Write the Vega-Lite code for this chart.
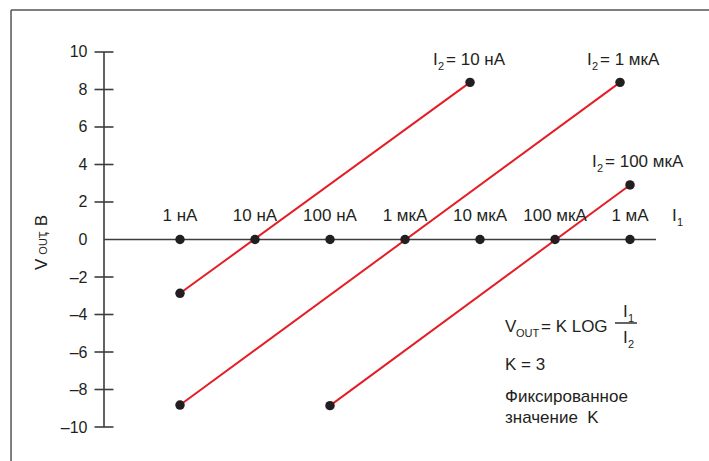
{
  "$schema": "https://vega.github.io/schema/vega-lite/v6.json",
  "width": 709,
  "height": 461,
  "autosize": {"type": "none"},
  "padding": 0,
  "background": "white",
  "config": {"view": {"stroke": null}, "font": "Liberation Sans"},
  "datasets": {
    "rules": [
      {"role": "frame", "x": -2.253, "x2": 7.06, "y": 12.24, "y2": 12.24},
      {"role": "frame", "x": -2.253, "x2": -2.253, "y": 12.24, "y2": -11.813},
      {"role": "axis", "x": -1.0133, "x2": -1.0133, "y": -10, "y2": 10},
      {"role": "axis", "x": -1.0133, "x2": 6.347, "y": 0, "y2": 0},
      {"role": "frac", "x": 5.8, "x2": 6.093, "y": -4.453, "y2": -4.453},
      {"role": "tick", "x": -1.14, "x2": -0.887, "y": -10, "y2": -10},
      {"role": "tick", "x": -1.14, "x2": -0.887, "y": -8, "y2": -8},
      {"role": "tick", "x": -1.14, "x2": -0.887, "y": -6, "y2": -6},
      {"role": "tick", "x": -1.14, "x2": -0.887, "y": -4, "y2": -4},
      {"role": "tick", "x": -1.14, "x2": -0.887, "y": -2, "y2": -2},
      {"role": "tick", "x": -1.14, "x2": -0.887, "y": 2, "y2": 2},
      {"role": "tick", "x": -1.14, "x2": -0.887, "y": 4, "y2": 4},
      {"role": "tick", "x": -1.14, "x2": -0.887, "y": 6, "y2": 6},
      {"role": "tick", "x": -1.14, "x2": -0.887, "y": 8, "y2": 8},
      {"role": "tick", "x": -1.14, "x2": -0.887, "y": 10, "y2": 10}
    ],
    "lines": [
      {"s": "I2 = 10 нА", "x": 0, "y": -2.87},
      {"s": "I2 = 10 нА", "x": 3.867, "y": 8.38},
      {"s": "I2 = 1 мкА", "x": 0, "y": -8.83},
      {"s": "I2 = 1 мкА", "x": 5.867, "y": 8.38},
      {"s": "I2 = 100 мкА", "x": 2.0, "y": -8.86},
      {"s": "I2 = 100 мкА", "x": 6.0, "y": 2.91}
    ],
    "adots": [
      {"x": 0, "y": 0, "label": "1 нА"},
      {"x": 1, "y": 0, "label": "10 нА"},
      {"x": 2, "y": 0, "label": "100 нА"},
      {"x": 3, "y": 0, "label": "1 мкА"},
      {"x": 4, "y": 0, "label": "10 мкА"},
      {"x": 5, "y": 0, "label": "100 мкА"},
      {"x": 6, "y": 0, "label": "1 мА"}
    ],
    "notes": [
      {"role": "l", "x": 3.373, "y": 9.307, "t": "I"},
      {"role": "s", "x": 3.44, "y": 9.307, "t": "2"},
      {"role": "l", "x": 3.547, "y": 9.307, "t": "= 10 нА"},
      {"role": "l", "x": 5.427, "y": 9.307, "t": "I"},
      {"role": "s", "x": 5.493, "y": 9.307, "t": "2"},
      {"role": "l", "x": 5.6, "y": 9.307, "t": "= 1 мкА"},
      {"role": "l", "x": 5.493, "y": 3.867, "t": "I"},
      {"role": "s", "x": 5.56, "y": 3.867, "t": "2"},
      {"role": "l", "x": 5.667, "y": 3.867, "t": "= 100 мкА"},
      {"role": "l", "x": 6.56, "y": 0.987, "t": "I"},
      {"role": "s", "x": 6.627, "y": 0.987, "t": "1"},
      {"role": "l", "x": 5.907, "y": -4.133, "t": "I"},
      {"role": "s", "x": 5.973, "y": -4.133, "t": "1"},
      {"role": "l", "x": 5.907, "y": -5.52, "t": "I"},
      {"role": "s", "x": 5.973, "y": -5.52, "t": "2"},
      {"role": "l", "x": 4.333, "y": -4.933, "t": "V"},
      {"role": "s", "x": 4.48, "y": -4.933, "t": "OUT"},
      {"role": "l", "x": 4.813, "y": -4.933, "t": "= K LOG"},
      {"role": "l", "x": 4.333, "y": -6.96, "t": "K = 3"},
      {"role": "l", "x": 4.333, "y": -8.667, "t": "Фиксированное"},
      {"role": "l", "x": 4.333, "y": -9.787, "t": "значение\u00a0 K"},
      {"role": "t", "x": -1.773, "y": -1.627, "t": "V"},
      {"role": "t", "x": -1.773, "y": 0.2, "t": ", В"},
      {"role": "ts", "x": -1.773, "y": -1.02, "t": "OUT"}
    ]
  },
  "encoding": {
    "x": {"field": "x", "type": "quantitative", "scale": {"domain": [-2.4, 7.0533], "nice": false, "zero": false}, "axis": null},
    "y": {"field": "y", "type": "quantitative", "scale": {"domain": [-11.813, 12.773], "nice": false, "zero": false},
      "axis": {"values": [-10, -8, -6, -4, -2, 0, 2, 4, 6, 8, 10], "offset": -104, "domain": false, "ticks": false, "grid": false,
        "labelPadding": 17, "labelFontSize": 16, "labelFont": "Liberation Sans", "labelColor": "#231f20", "title": null,
        "labelExpr": "datum.value < 0 ? '–' + abs(datum.value) : '' + datum.value"}}
  },
  "layer": [
    {
      "data": {"name": "rules"},
      "transform": [{"filter": "datum.role === 'frame'"}],
      "mark": {"type": "rule", "color": "#555555", "strokeWidth": 1.5},
      "encoding": {"x2": {"field": "x2"}, "y2": {"field": "y2"}}
    },
    {
      "data": {"name": "rules"},
      "transform": [{"filter": "datum.role !== 'frame'"}],
      "mark": {"type": "rule", "color": "#3d3d3d", "strokeWidth": 1.6},
      "encoding": {"x2": {"field": "x2"}, "y2": {"field": "y2"}}
    },
    {
      "data": {"name": "lines"},
      "mark": {"type": "line", "color": "#e41e26", "strokeWidth": 2},
      "encoding": {"detail": {"field": "s"}}
    },
    {
      "data": {"name": "lines"},
      "mark": {"type": "point", "filled": true, "size": 90, "color": "#231f20", "opacity": 1}
    },
    {
      "data": {"name": "adots"},
      "mark": {"type": "point", "filled": true, "size": 90, "color": "#231f20", "opacity": 1}
    },
    {
      "data": {"name": "adots"},
      "mark": {"type": "text", "dy": -19, "align": "center", "baseline": "alphabetic", "fontSize": 17, "color": "#231f20"},
      "encoding": {"text": {"field": "label"}}
    },
    {
      "data": {"name": "notes"},
      "transform": [{"filter": "datum.role === 'l'"}],
      "mark": {"type": "text", "align": "left", "baseline": "alphabetic", "fontSize": 17, "color": "#231f20"},
      "encoding": {"text": {"field": "t"}}
    },
    {
      "data": {"name": "notes"},
      "transform": [{"filter": "datum.role === 's'"}],
      "mark": {"type": "text", "align": "left", "baseline": "alphabetic", "fontSize": 11, "dy": 5, "color": "#231f20"},
      "encoding": {"text": {"field": "t"}}
    },
    {
      "data": {"name": "notes"},
      "transform": [{"filter": "datum.role === 't'"}],
      "mark": {"type": "text", "align": "left", "baseline": "alphabetic", "fontSize": 17, "angle": 270, "color": "#231f20"},
      "encoding": {"text": {"field": "t"}}
    },
    {
      "data": {"name": "notes"},
      "transform": [{"filter": "datum.role === 'ts'"}],
      "mark": {"type": "text", "align": "left", "baseline": "alphabetic", "fontSize": 11, "angle": 270, "dx": 4, "color": "#231f20"},
      "encoding": {"text": {"field": "t"}}
    }
  ]
}
